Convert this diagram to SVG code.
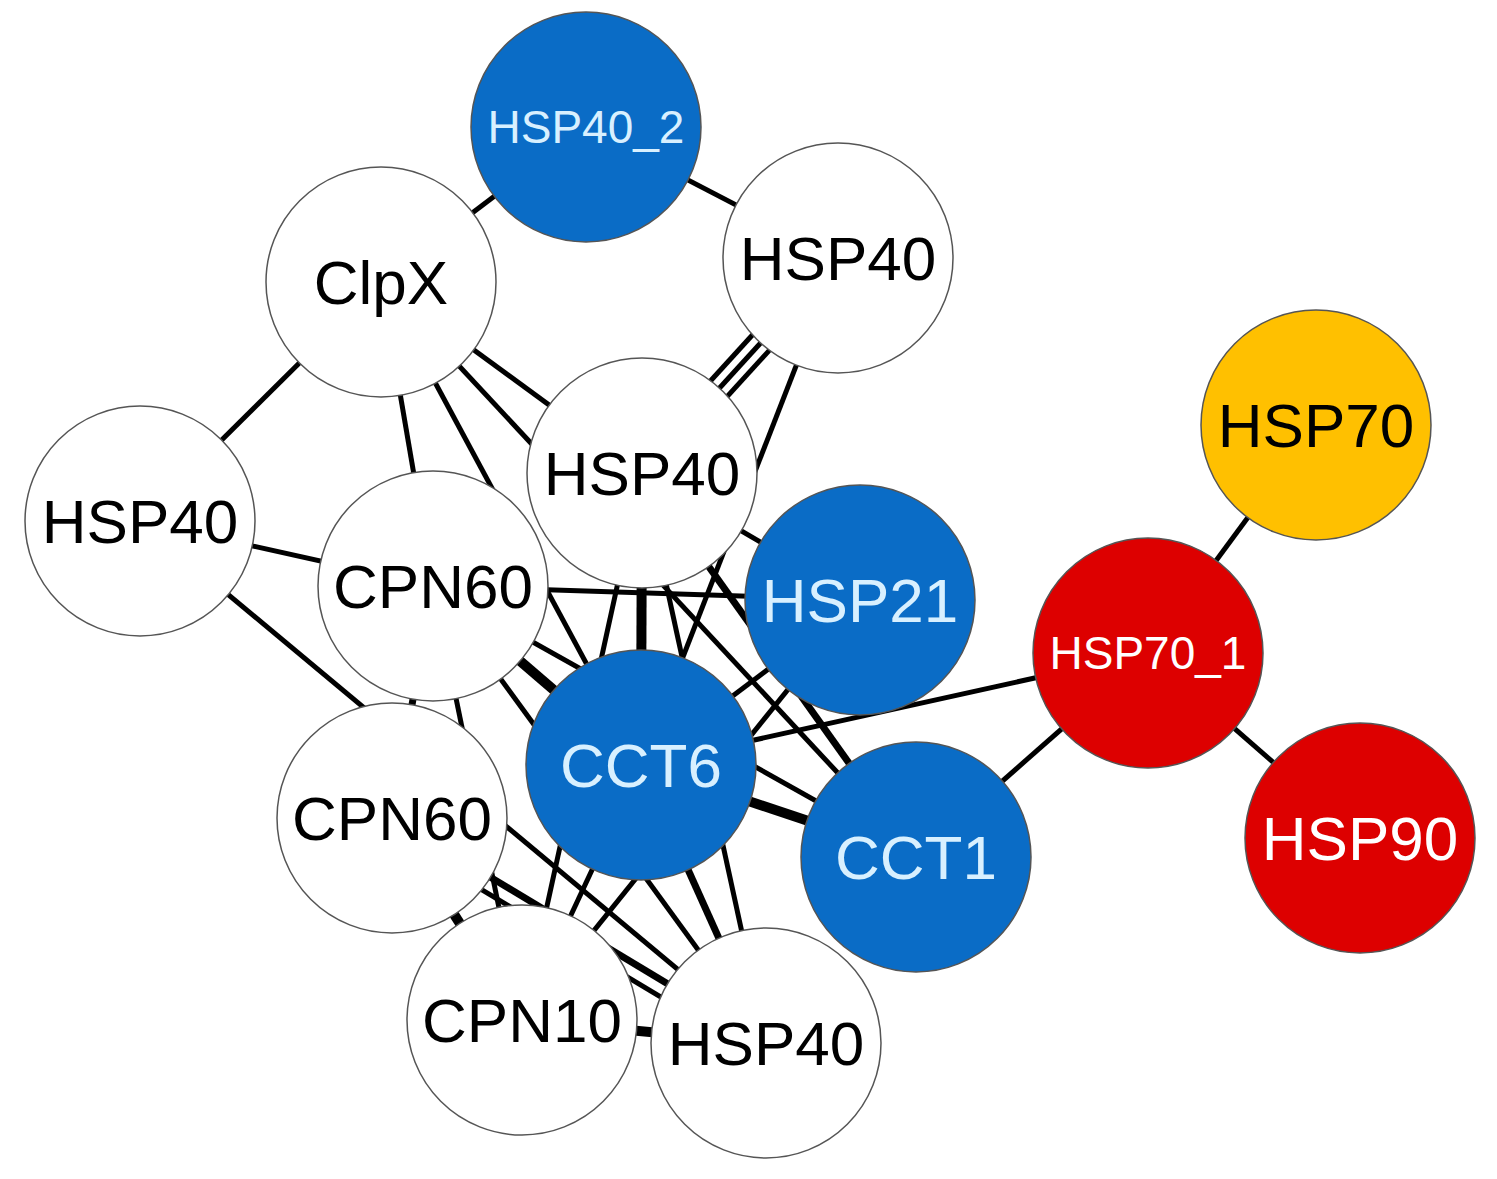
<svg xmlns="http://www.w3.org/2000/svg" width="1497" height="1179" viewBox="0 0 1497 1179">
<style>
.e{stroke:#000;stroke-width:5;fill:none}
.t{stroke-width:10}
.m{stroke-width:7}
circle{stroke:#555;stroke-width:1.5}
.w{fill:#fff}.b{fill:#0a6cc6}.r{fill:#dd0000}.y{fill:#ffc000}
text{font-family:"Liberation Sans",Arial,sans-serif;font-size:62px;text-anchor:middle;dominant-baseline:central}
.lt{fill:#fff}.lb{fill:#d8f0ff}
</style>
<rect width="1497" height="1179" fill="#fff"/>
<g id="edges">
<line class="e" x1="586" y1="127" x2="381" y2="282"/>
<line class="e" x1="586" y1="127" x2="838" y2="258"/>
<line class="e" x1="828" y1="252" x2="632" y2="467"/>
<line class="e" x1="838" y1="258" x2="642" y2="473"/>
<line class="e" x1="848" y1="264" x2="652" y2="479"/>
<line class="e" x1="838" y1="258" x2="641" y2="765"/>
<line class="e" x1="381" y1="282" x2="140" y2="521"/>
<line class="e" x1="381" y1="282" x2="433" y2="586"/>
<line class="e" x1="381" y1="282" x2="641" y2="765"/>
<line class="e" x1="381" y1="282" x2="916" y2="857"/>
<line class="e" x1="381" y1="282" x2="642" y2="473"/>
<line class="e" x1="140" y1="521" x2="433" y2="586"/>
<line class="e" x1="140" y1="521" x2="766" y2="1043"/>
<line class="e" x1="433" y1="586" x2="860" y2="600"/>
<line class="e t" x1="433" y1="586" x2="641" y2="765"/>
<line class="e" x1="433" y1="586" x2="916" y2="857"/>
<line class="e m" x1="433" y1="586" x2="392" y2="818"/>
<line class="e" x1="433" y1="586" x2="522" y2="1020"/>
<line class="e" x1="433" y1="586" x2="766" y2="1043"/>
<line class="e t" x1="642" y1="473" x2="641" y2="765"/>
<line class="e m" x1="642" y1="473" x2="916" y2="857"/>
<line class="e" x1="642" y1="473" x2="860" y2="600"/>
<line class="e" x1="642" y1="473" x2="522" y2="1020"/>
<line class="e" x1="642" y1="473" x2="766" y2="1043"/>
<line class="e" x1="860" y1="600" x2="641" y2="765"/>
<line class="e" x1="860" y1="600" x2="522" y2="1020"/>
<line class="e" x1="641" y1="765" x2="1148" y2="653"/>
<line class="e t" x1="641" y1="765" x2="916" y2="857"/>
<line class="e" x1="916" y1="857" x2="1148" y2="653"/>
<line class="e" x1="1148" y1="653" x2="1316" y2="425"/>
<line class="e" x1="1148" y1="653" x2="1360" y2="838"/>
<line class="e t" x1="392" y1="818" x2="522" y2="1020"/>
<line class="e m" x1="392" y1="818" x2="766" y2="1043"/>
<line class="e" x1="392" y1="836" x2="766" y2="1060"/>
<line class="e m" x1="641" y1="765" x2="766" y2="1043"/>
<line class="e" x1="641" y1="765" x2="522" y2="1020"/>
<line class="e t" x1="522" y1="1020" x2="766" y2="1043"/>
</g>
<g id="n1"><circle class="b" cx="586" cy="127" r="115"/><text class="lb" x="586" y="127" style="font-size:46px">HSP40_2</text></g>
<g id="n2"><circle class="w" cx="381" cy="282" r="115"/><text x="381" y="282">ClpX</text></g>
<g id="n3"><circle class="w" cx="838" cy="258" r="115"/><text x="838" y="258">HSP40</text></g>
<g id="n4"><circle class="w" cx="642" cy="473" r="115"/><text x="642" y="473">HSP40</text></g>
<g id="n5"><circle class="w" cx="140" cy="521" r="115"/><text x="140" y="521">HSP40</text></g>
<g id="n6"><circle class="w" cx="433" cy="586" r="115"/><text x="433" y="586">CPN60</text></g>
<g id="n7"><circle class="b" cx="860" cy="600" r="115"/><text class="lb" x="860" y="600">HSP21</text></g>
<g id="n8"><circle class="y" cx="1316" cy="425" r="115"/><text x="1316" y="425">HSP70</text></g>
<g id="n9"><circle class="r" cx="1148" cy="653" r="115"/><text class="lt" x="1148" y="653" style="font-size:46px">HSP70_1</text></g>
<g id="n10"><circle class="w" cx="392" cy="818" r="115"/><text x="392" y="818">CPN60</text></g>
<g id="n11"><circle class="b" cx="641" cy="765" r="115"/><text class="lb" x="641" y="765">CCT6</text></g>
<g id="n12"><circle class="b" cx="916" cy="857" r="115"/><text class="lb" x="916" y="857">CCT1</text></g>
<g id="n13"><circle class="r" cx="1360" cy="838" r="115"/><text class="lt" x="1360" y="838">HSP90</text></g>
<g id="n14"><circle class="w" cx="522" cy="1020" r="115"/><text x="522" y="1020">CPN10</text></g>
<g id="n15"><circle class="w" cx="766" cy="1043" r="115"/><text x="766" y="1043">HSP40</text></g>
</svg>
